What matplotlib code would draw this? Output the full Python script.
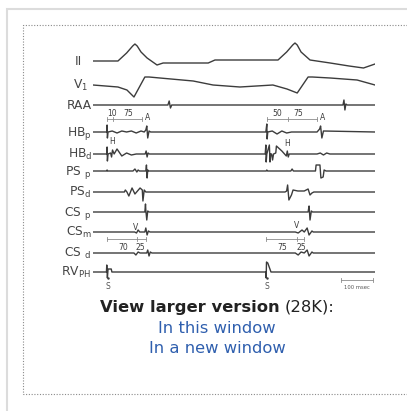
import matplotlib
matplotlib.use("Agg")
import matplotlib.pyplot as plt

plt.rcParams['font.family'] = ['DejaVu Sans']
plt.rcParams['mathtext.default'] = 'regular'

W, H = 407, 411

labels = ['II', 'V$_1$', 'RAA', 'HB$_p$', 'HB$_d$', 'PS $_p$', 'PS$_d$',
          'CS $_p$', 'CS$_m$', 'CS $_d$', 'RV$_{PH}$']

# time (ms) and deflection (up = positive) of each recorded channel
t_ii = [0, 78, 105, 124, 131, 138, 150, 169, 200, 219, 360, 381,
        578, 605, 624, 631, 638, 650, 678, 741, 800, 845, 881]
v_ii = [0, 0, 8, 15, 17, 15, 9, 3, -4, -2, -2, 1,
        1, 9, 16, 18, 16, 9, 1, -2, -5, -7, -3]

t_v1 = [0, 78, 106, 128, 162, 175, 209, 313, 375, 459, 562, 606, 638, 672, 685, 741, 825, 881]
v_v1 = [0, -2, -5, -12, 8, 8, 7, 4, 0, -2, 0, -4, -8, 8, 8, 7, 5, 0]

t_raa = [0, 234, 238, 242, 246, 250, 781, 784, 787, 790, 794, 881]
v_raa = [0, 0, 4, -3, 0, 0, 0, 5, -5, 1, 0, 0]

t_hbp = [0, 43, 44, 45, 47, 60, 75, 90, 105, 120, 135, 150, 160, 165, 168, 171, 175, 180,
         540, 543, 544, 546, 560, 575, 590, 605, 620, 640, 700, 708, 711, 715, 720, 881]
v_hbp = [0, 0, 7, -6, 0, 1, -1, 1, 0, 1, -1, 1, 0, 2, 6, -6, 1, 0,
         0, 8, -7, 0, 1, -2, 1, -1, 0, 0, 0, 3, 6, -6, 1, 0]

t_hbd = [0, 43, 44, 45, 47, 55, 58, 61, 66, 75, 90, 105, 120, 135, 150, 163, 166, 169, 172, 176,
         538, 540, 541, 543, 551, 553, 555, 558, 561, 564, 571, 573, 590, 604, 607, 610, 613,
         700, 710, 720, 730, 740, 881]
v_hbd = [0, 0, 7, -7, 0, 1, -3, 4, 0, 5, -2, 1, -1, 0, 0, 0, 3, -3, 1, 0,
         0, 9, -8, 0, 9, -8, 0, 0, -6, 0, 1, 8, 3, -2, 3, -3, 0,
         0, 1, -1, 1, 0, 0]

t_psp = [0, 43, 44, 46, 125, 131, 137, 141, 145, 165, 167, 169, 171, 174,
         541, 543, 545, 618, 622, 626, 695, 697, 709, 712, 719, 722, 728, 881]
v_psp = [0, 0, 1, 0, 0, 2, -1, 1, 0, 0, 6, -7, 1, 0,
         0, 1, 0, 0, 2, 0, 0, 6, 6, -7, -6, 1, 0, 0]

t_psd = [0, 98, 101, 106, 112, 122, 131, 147, 154, 156, 160, 165, 170,
         600, 605, 608, 612, 620, 625, 640, 660, 672, 678, 684, 690, 881]
v_psd = [0, 0, 2, 0, -4, 4, -2, 4, 2, -9, 2, 0, 0,
         0, 1, 7, -8, -3, 2, 1, 1, 3, -3, -1, 0, 0]

t_csp = [0, 162, 164, 165, 168, 171, 175, 672, 675, 678, 682, 686, 881]
v_csp = [0, 0, 8, 2, -8, 1, 0, 0, 6, -8, 1, 0, 0]

t_csm = [0, 130, 136, 141, 146, 162, 165, 169, 173, 178, 632, 641, 653, 660, 669, 675, 684, 688, 881]
v_csm = [0, 0, -1, 2, 0, 0, 4, -3, 1, 0, 0, -1, 2, 0, 4, -3, 1, 0, 0]

t_csd = [0, 128, 134, 141, 147, 168, 171, 175, 179, 184, 632, 641, 650, 660, 669, 675, 684, 688, 881]
v_csd = [0, 0, -2, 1, 0, 0, 3, -3, 1, 0, 0, -2, 1, 0, 3, -3, 1, 0, 0]

t_rv = [0, 42, 43, 45, 47, 57, 59, 540, 541, 542, 546, 556, 881]
v_rv = [0, 0, 7, -6, 3, 3, 0, 0, -6, 10, 9, 0, 0]

channels = [(t_ii, v_ii), (t_v1, v_v1), (t_raa, v_raa), (t_hbp, v_hbp), (t_hbd, v_hbd),
            (t_psp, v_psp), (t_psd, v_psd), (t_csp, v_csp), (t_csm, v_csm),
            (t_csd, v_csd), (t_rv, v_rv)]

# interval markers (ms): tick times and labels
upper_ticks = [[44, 62, 153], [544, 609, 700]]
upper_text = [[('10', 59), ('75', 109)], [('50', 575), ('75', 641)]]
lower_ticks = [[44, 137, 166], [541, 637, 659]]
lower_text = [[('70', 94), ('25', 147)], [('75', 591), ('25', 650)]]
a_times = [170, 716]
h_times = [59, 606]
v_times = [134, 637]
s_times = [47, 544]
scale_ms = [775, 875]

# layout (pixels)
rows = [61, 85, 105, 132, 154, 171, 192, 212, 232, 253, 272]
label_right = [82, 88, 92, 92, 92, 91, 91, 91, 92, 91, 91]
ink = '#3c3c3c'

fig = plt.figure(figsize=(W / 100, H / 100), dpi=100)
bg = fig.add_axes([0, 0, 1, 1])
bg.set_xlim(0, W)
bg.set_ylim(H, 0)
bg.axis('off')

# page frame and dotted box
bg.plot([7, 7, W], [H, 9, 9], color='#dcdcdc', lw=1.5, solid_joinstyle='miter')
bg.plot([W, 22.5, 22.5, W], [25, 25, 394, 394], color='#8a8a8a', lw=0.8,
        ls=(0, (1, 1.5)))

for lab, y, xr in zip(labels, rows, label_right):
    bg.text(xr, y + 4, lab, ha='right', va='baseline', fontsize=8.8, color='#444444')

ax = fig.add_axes([93 / W, 0, (375 - 93) / W, 1])
ax.set_xlim(0, 881)
ax.set_ylim(H, 0)
ax.axis('off')

for (t, v), y in zip(channels, rows):
    ax.plot(t, [y - a for a in v], color=ink, lw=1.0, solid_joinstyle='round')

grey = '#8c8c8c'
for ticks, texts, ly, ty in [(upper_ticks, upper_text, 119, 113),
                             (lower_ticks, lower_text, 239, 247)]:
    for tk, tx in zip(ticks, texts):
        ax.plot([tk[0], tk[-1]], [ly, ly], color=grey, lw=0.6)
        for x in tk:
            ax.plot([x, x], [ly - 2, ly + 2], color=grey, lw=0.6)
        for s, x in tx:
            ax.text(x, ty, s, ha='center', va='center', fontsize=5.5, color=ink)

for x in a_times:
    ax.text(x, 117, 'A', ha='center', va='center', fontsize=5.5, color=ink)
for x, y in zip(h_times, [141, 143]):
    ax.text(x, y, 'H', ha='center', va='center', fontsize=5.5, color=ink)
for x, y in zip(v_times, [227, 225]):
    ax.text(x, y, 'V', ha='center', va='center', fontsize=5.5, color=ink)
for x in s_times:
    ax.plot([x], [278], marker='.', ms=1.5, color=ink)
    ax.text(x, 286, 'S', ha='center', va='center', fontsize=5.5, color='#555555')

ax.plot(scale_ms, [280, 280], color=grey, lw=0.6)
for x in scale_ms:
    ax.plot([x, x], [278, 282], color=grey, lw=0.6)
ax.text(sum(scale_ms) / 2, 287, '100 msec', ha='center', va='center',
        fontsize=3.8, color='#555555')

# caption below the figure
fs = 11.8
fig.canvas.draw()
r = fig.canvas.get_renderer()
t1 = bg.text(0, 307, 'View larger version', ha='left', va='center',
             fontsize=fs, weight='bold', color='#222222')
t2 = bg.text(0, 307, '(28K):', ha='left', va='center', fontsize=fs, color='#222222')
w1 = t1.get_window_extent(r).width
w2 = t2.get_window_extent(r).width
gap = 5
x0 = 217 - (w1 + gap + w2) / 2
t1.set_x(x0)
t2.set_x(x0 + w1 + gap)

link = '#2f5fae'
bg.text(217, 328, 'In this window', ha='center', va='center', fontsize=fs, color=link)
bg.text(217, 348, 'In a new window', ha='center', va='center', fontsize=fs, color=link)

fig.savefig('out.png', dpi=100)
